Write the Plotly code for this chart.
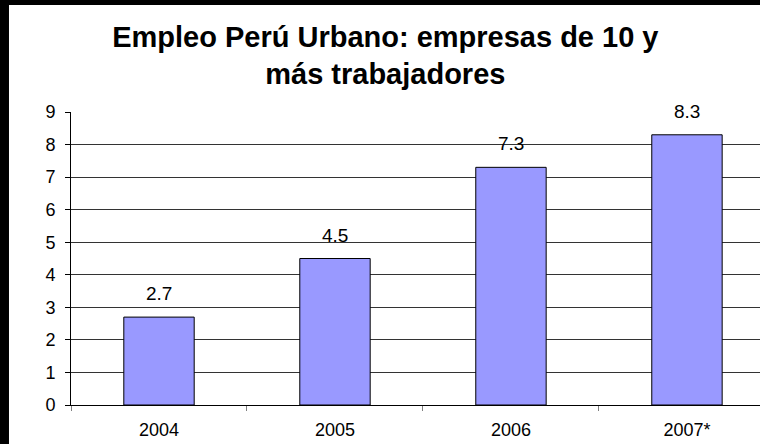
import plotly.graph_objects as go

categories = ["2004", "2005", "2006", "2007*"]
values = [2.7, 4.5, 7.3, 8.3]
value_labels = ["2.7", "4.5", "7.3", "8.3"]
y_ticks = [0, 1, 2, 3, 4, 5, 6, 7, 8, 9]
title_text = "Empleo Perú Urbano: empresas de 10 y<br>más trabajadores"

FONT = "Arial, Liberation Sans, sans-serif"

fig = go.Figure()
fig.add_trace(go.Bar(
    x=categories, y=values,
    marker=dict(color="#9999FF", line=dict(color="black", width=1)),
    width=0.4,
    hoverinfo="skip",
))

for i, (v, t) in enumerate(zip(values, value_labels)):
    fig.add_annotation(x=i, y=v, text=t, showarrow=False, yanchor="bottom",
                       yshift=11, font=dict(family=FONT, size=19, color="black"))

# black frame strips (left and top)
fig.add_shape(type="rect", xref="paper", yref="paper", x0=-0.2, x1=-0.0900,
              y0=-0.5, y1=1.6, fillcolor="black", line=dict(width=0), layer="above")
fig.add_shape(type="rect", xref="paper", yref="paper", x0=-0.2, x1=1.2,
              y0=1.365, y1=1.6, fillcolor="black", line=dict(width=0), layer="above")

fig.update_layout(
    width=760, height=444,
    margin=dict(l=71, r=0, t=112, b=39, pad=0),
    paper_bgcolor="white", plot_bgcolor="white",
    showlegend=False,
    title=dict(text=title_text, x=0.507, xanchor="center", y=0.895, yanchor="top",
               yref="container",
               font=dict(family=FONT, size=29, color="black", weight="bold")),
    font=dict(family=FONT, color="black"),
    bargap=0.6,
)
fig.update_xaxes(
    type="category", range=[-0.5, 3.415],
    showline=True, linecolor="black", linewidth=1,
    ticks="outside", tickson="boundaries", ticklen=5, tickcolor="#808080",
    tickfont=dict(family=FONT, size=18, color="black"),
    ticklabelstandoff=8,
    showgrid=False, fixedrange=True,
)
fig.update_yaxes(
    range=[0, 9], tickvals=y_ticks,
    showline=True, linecolor="black", linewidth=1,
    ticks="outside", ticklen=5, tickcolor="black",
    tickfont=dict(family=FONT, size=18, color="black"),
    ticklabelstandoff=6,
    showgrid=True, gridcolor="#333333", gridwidth=1,
    zeroline=False, fixedrange=True,
)

fig.write_html("out.html", config={"displayModeBar": False},
               post_script="document.body.style.margin='0px';document.body.style.overflow='hidden';")
